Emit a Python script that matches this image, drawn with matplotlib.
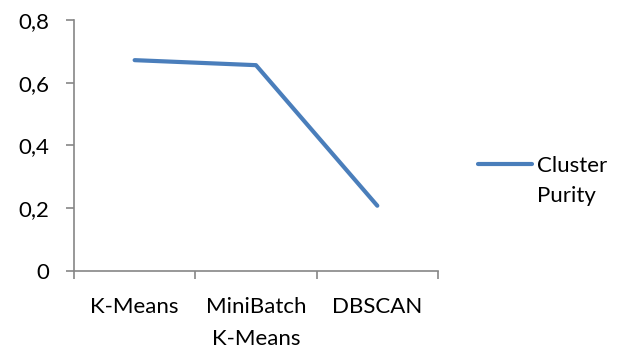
import matplotlib
matplotlib.use('Agg')
import matplotlib.pyplot as plt
from matplotlib.lines import Line2D

# Data
categories = ['K-Means', 'MiniBatch\nK-Means', 'DBSCAN']
purity = [0.672, 0.656, 0.208]
y_ticks = [0, 0.2, 0.4, 0.6, 0.8]
y_labels = ['0', '0,2', '0,4', '0,6', '0,8']
series_name = 'Cluster\nPurity'

blue = '#4a7ebb'
gray = '#868686'
fs = 16

plt.rcParams['font.family'] = ['Lato', 'DejaVu Sans']

fig = plt.figure(figsize=(6.29, 3.5), dpi=100)
ax = fig.add_axes([0.1176, 0.2257, 0.5787, 0.7172])

x = list(range(len(categories)))
ax.plot(x, purity, color=blue, linewidth=3, solid_capstyle='round')

ax.set_xlim(-0.5, len(categories) - 0.5)
ax.set_ylim(0, 0.8)

# Axis styling in the Excel manner
for side in ['top', 'right']:
    ax.spines[side].set_visible(False)
for side in ['left', 'bottom']:
    ax.spines[side].set_color(gray)
    ax.spines[side].set_linewidth(1.2)

ax.set_yticks(y_ticks)
ax.set_yticklabels(y_labels)
ax.tick_params(axis='y', direction='out', length=6, width=1.2, color=gray,
               labelsize=fs, pad=12)

# tick marks at category boundaries, labels at centres
ax.set_xticks([i - 0.5 for i in range(len(categories) + 1)])
ax.set_xticklabels([])
ax.set_xticks(x, minor=True)
ax.set_xticklabels(categories, minor=True)
ax.tick_params(axis='x', which='major', direction='out', length=6, width=1.2, color=gray)
ax.tick_params(axis='x', which='minor', length=0, labelsize=fs, pad=19)
for lbl in ax.get_xticklabels(minor=True):
    lbl.set_horizontalalignment('center')
    lbl.set_multialignment('center')
    lbl.set_linespacing(1.7)

# legend drawn at the right
fig.add_artist(Line2D([478 / 629, 532 / 629], [1 - 164 / 350, 1 - 164 / 350],
                      color=blue, linewidth=3, solid_capstyle='round'))
fig.text(537 / 629, 1 - 181 / 350, series_name, fontsize=fs,
         ha='left', va='center', linespacing=1.6)

fig.savefig('out.png', dpi=100)
